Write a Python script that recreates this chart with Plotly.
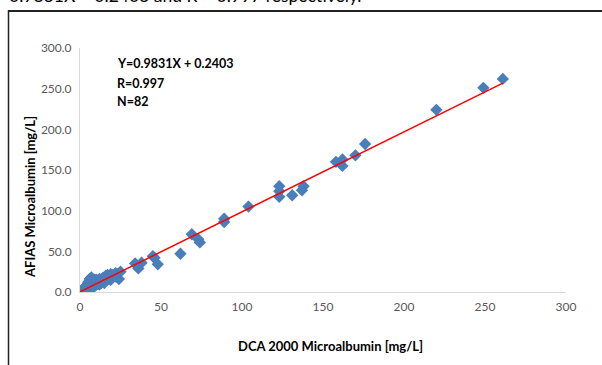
import plotly.graph_objects as go

# DCA 2000 (x) vs AFIAS (y) microalbumin, mg/L
dca_2000 = [261, 249, 220, 176, 170, 162, 162, 158, 138, 137, 131, 123, 123, 123,
            104, 89, 89, 74, 73, 69, 62, 48, 46, 45, 38, 36, 34, 25, 24,
            1, 2, 2, 3, 3, 4, 4, 5, 5, 5, 6, 6, 6, 7, 7, 7, 8, 8, 8, 9, 9,
            10, 10, 10, 11, 11, 12, 12, 13, 13, 14, 14, 15, 15, 16, 16, 17, 17,
            18, 18, 19, 19, 20, 20, 21, 22, 22, 23, 3, 9, 12, 15, 19]
afias = [262, 251, 224, 182, 168, 163, 155, 160, 130, 125, 119, 130, 124, 117,
         105, 90, 86, 61, 65, 71, 47, 34, 42, 44, 36, 29, 35, 25, 16,
         2, 1, 4, 3, 6, 2, 5, 4, 8, 12, 6, 16, 10, 7, 13, 18, 5, 9, 14, 8, 12,
         9, 15, 11, 10, 14, 12, 16, 11, 14, 13, 17, 14, 18, 15, 20, 17, 21,
         16, 20, 19, 22, 18, 21, 20, 23, 19, 22, 1, 15, 9, 11, 15]

slope = 0.9831
intercept = 0.2403
r_value = 0.997
n_points = 82

x_title = "DCA 2000 Microalbumin [mg/L]"
y_title = "AFIAS Microalbumin [mg/L]"
top_text = "0.9831X + 0.2403 and R = 0.997 respectively."

FONT = "Lato"

# plot area in window pixels (body margin removed below)
PL, PR, PT, PB = 80, 566, 48, 292
PW, PH = PR - PL, PB - PT


def px(wx):
    return (wx - PL) / PW


def py(wy):
    return (PB - wy) / PH


fig = go.Figure()
fig.add_trace(go.Scatter(
    x=dca_2000, y=afias, mode="markers",
    marker=dict(symbol="diamond", size=9.5, color="#4A7EBB", line=dict(width=0)),
    showlegend=False, hoverinfo="skip"))

x_hi = max(dca_2000)
fig.add_trace(go.Scatter(
    x=[0, x_hi], y=[intercept, slope * x_hi + intercept], mode="lines",
    line=dict(color="#FF0000", width=1.5), showlegend=False, hoverinfo="skip"))

axis_common = dict(
    showgrid=False, zeroline=False, showline=True, linecolor="#D9D9D9", linewidth=1,
    ticks="", tickfont=dict(family=FONT, size=12, color="#595959"),
    range=[0, 300], dtick=50, tick0=0, fixedrange=True)

fig.update_xaxes(**axis_common, ticklabelstandoff=4)
fig.update_yaxes(**axis_common, tickformat=".1f", ticklabelstandoff=5)

ann = [
    (f"<b>Y={slope}X + {intercept}</b>", 115, 64),
    (f"<b>R={r_value}</b>", 115, 83),
    (f"<b>N={n_points}</b>", 115, 101),
]
annotations = []
for text, wx, wy in ann:
    annotations.append(dict(
        text=text, x=px(wx), y=py(wy), xref="paper", yref="paper",
        xanchor="left", yanchor="middle", showarrow=False,
        font=dict(family=FONT, size=12.5, color="#000000")))

annotations.append(dict(
    text=f"<b>{x_title}</b>", x=px(330), y=py(346),
    xref="paper", yref="paper", xanchor="center", yanchor="middle", showarrow=False,
    font=dict(family=FONT, size=13, color="#000000")))
annotations.append(dict(
    text=f"<b>{y_title}</b>", x=px(30), y=py(197), textangle=-90,
    xref="paper", yref="paper", xanchor="center", yanchor="middle", showarrow=False,
    font=dict(family=FONT, size=13, color="#000000")))
annotations.append(dict(
    text=top_text, x=px(7), y=py(-4.5),
    xref="paper", yref="paper", xanchor="left", yanchor="middle", showarrow=False,
    font=dict(family=FONT, size=17.5, color="#000000")))

shapes = [
    dict(type="line", xref="paper", yref="paper",
         x0=px(8), x1=px(640), y0=py(11), y1=py(11),
         line=dict(color="#222222", width=2)),
    dict(type="line", xref="paper", yref="paper",
         x0=px(8.5), x1=px(8.5), y0=py(10), y1=py(400),
         line=dict(color="#222222", width=1.5)),
]

fig.update_layout(
    width=602, height=365,
    margin=dict(l=PL, r=602 - PR, t=PT, b=365 - PB, autoexpand=False),
    paper_bgcolor="#FFFFFF", plot_bgcolor="#FFFFFF",
    annotations=annotations, shapes=shapes,
    font=dict(family=FONT),
)

fig.write_html("out.html", config={"displayModeBar": False},
               post_script="document.body.style.margin='0';")
